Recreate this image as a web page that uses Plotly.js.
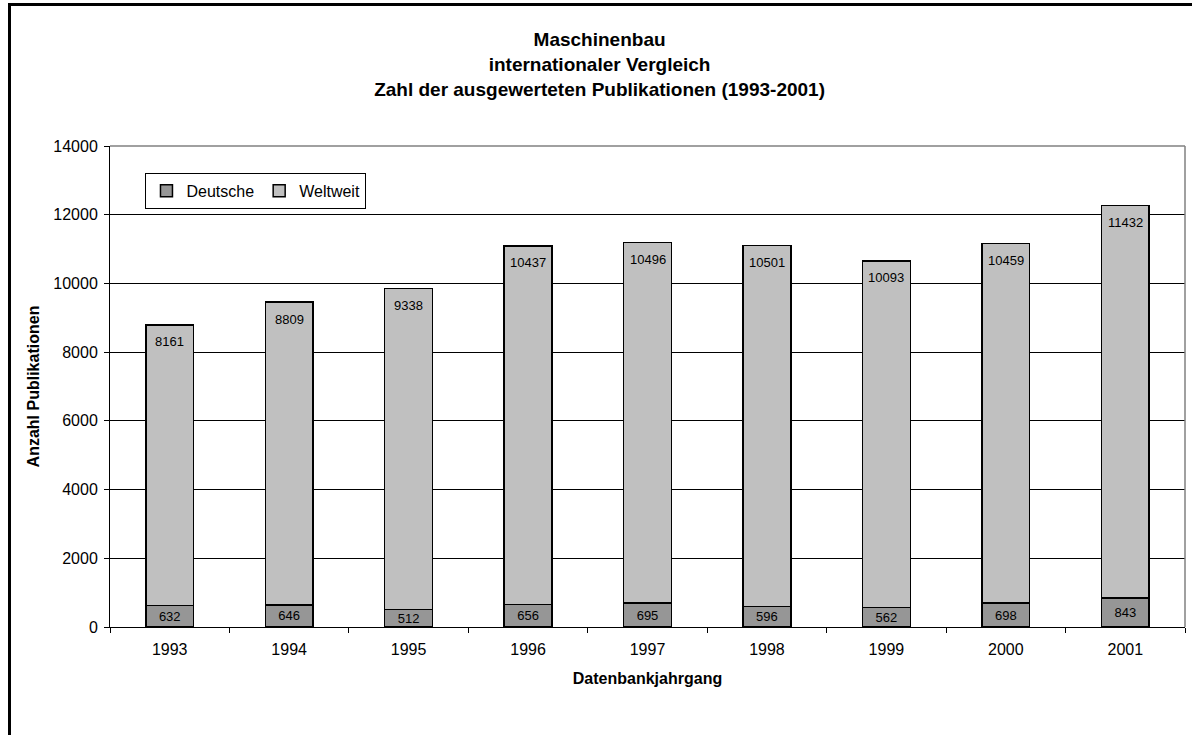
<!DOCTYPE html>
<html>
<head>
<meta charset="utf-8">
<script src="https://cdn.plot.ly/plotly-3.0.1.min.js"></script>
<style>
  body { margin: 0; background: #fff; }
  #chart { width: 1192px; height: 735px; }
  #rahmen { position: absolute; left: 8px; top: 3px; width: 1300px; height: 800px;
            border-left: 3px solid #000; border-top: 3px solid #000; pointer-events: none; }
</style>
</head>
<body>
<div id="chart"></div>
<div id="rahmen"></div>
<script>
const jahre = ["1993", "1994", "1995", "1996", "1997", "1998", "1999", "2000", "2001"];
const deutsche = [632, 646, 512, 656, 695, 596, 562, 698, 843];
const weltweit = [8161, 8809, 9338, 10437, 10496, 10501, 10093, 10459, 11432];

const schrift = "Arial, 'Liberation Sans', sans-serif";

// Beschriftung der Weltweit-Werte oben im Balken (x = Kategorie-Index)
const oben = jahre.map((j, i) => ({
  x: i, y: deutsche[i] + weltweit[i], yshift: -17,
  xref: "x", yref: "y",
  text: String(weltweit[i]), showarrow: false,
  font: { size: 13, color: "#000" }
}));

Plotly.newPlot("chart", [
  {
    x: jahre, y: deutsche, name: "Deutsche", type: "bar",
    marker: { color: "#969696", line: { color: "#000", width: 1.5 } },
    text: deutsche.map(String), textposition: "inside", insidetextanchor: "middle",
    textfont: { size: 13, color: "#000" }, constraintext: "none"
  },
  {
    x: jahre, y: weltweit, name: "Weltweit", type: "bar",
    marker: { color: "#c0c0c0", line: { color: "#000", width: 1.5 } },
    textposition: "none"
  }
], {
  barmode: "stack",
  bargap: 0.6,
  font: { family: schrift, size: 16, color: "#000" },
  title: {
    text: "Maschinenbau<br>internationaler Vergleich<br>Zahl der ausgewerteten Publikationen (1993-2001)",
    font: { size: 19, weight: "bold" },
    x: 0.503, xref: "container", y: 0.937, yanchor: "top"
  },
  margin: { l: 110, r: 7, t: 146, b: 108 },
  paper_bgcolor: "rgba(0,0,0,0)",
  plot_bgcolor: "#fff",
  xaxis: {
    type: "category", range: [-0.5, 8.5], autorange: false,
    title: { text: "Datenbankjahrgang", font: { size: 16, weight: "bold" }, standoff: 15 },
    tickson: "boundaries", ticks: "outside", ticklen: 5, tickcolor: "#000",
    ticklabelstandoff: 8,
    showline: true, linecolor: "#000", linewidth: 1,
    tickfont: { size: 16 }, tickangle: 0
  },
  yaxis: {
    title: { text: "Anzahl Publikationen", font: { size: 16, weight: "bold" }, standoff: 9 },
    range: [0, 14000], autorange: false, dtick: 2000, tickformat: "d",
    ticks: "outside", ticklen: 5, tickcolor: "#000",
    ticklabelstandoff: 3,
    showline: true, linecolor: "#000", linewidth: 1,
    gridcolor: "#000", gridwidth: 1, zeroline: false,
    tickfont: { size: 16 }
  },
  legend: {
    orientation: "h", x: 0.033, y: 0.944, xanchor: "left", yanchor: "top",
    bgcolor: "#fff", bordercolor: "#000", borderwidth: 1,
    font: { size: 16 }, traceorder: "normal"
  },
  shapes: [
    { type: "line", xref: "paper", yref: "paper", x0: 0, x1: 1, y0: 1, y1: 1, line: { color: "#808080", width: 1.5 } },
    { type: "line", xref: "paper", yref: "paper", x0: 1, x1: 1, y0: 0, y1: 1, line: { color: "#808080", width: 1.5 } }
  ],
  annotations: oben,
  showlegend: true
}, { displayModeBar: false });
</script>
</body>
</html>
